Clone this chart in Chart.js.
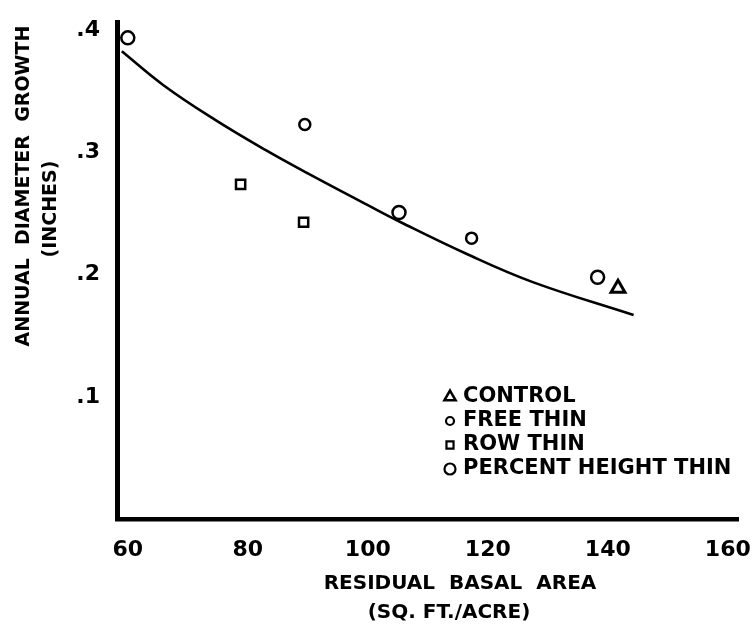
<!DOCTYPE html>
<html>
<head>
<meta charset="utf-8">
<script src="https://cdn.jsdelivr.net/npm/chart.js@4/dist/chart.umd.min.js"></script>
<style>
  html, body { margin: 0; padding: 0; background: #fff; }
  #wrap { width: 756px; height: 629px; }
</style>
</head>
<body>
<div id="wrap"><canvas id="growthChart" width="756" height="629"></canvas></div>
<script>
// values
const xTicks = [60, 80, 100, 120, 140, 160];
const yTicks = [0.1, 0.2, 0.3, 0.4];

const curveX = [59, 66, 74.5, 83, 90, 100, 105.5, 116.5, 127.5, 144.3];
const curveY = [0.383, 0.355, 0.327, 0.302, 0.283, 0.257, 0.243, 0.217, 0.194, 0.167];

const controlX = [141.7];
const controlY = [0.189];

const freeThinX = [89.5, 117.3];
const freeThinY = [0.323, 0.230];

const rowThinX = [78.8, 89.3];
const rowThinY = [0.274, 0.243];

const pctHeightX = [60, 105.2, 138.3];
const pctHeightY = [0.394, 0.251, 0.198];

const legendLabels = ['CONTROL', 'FREE THIN', 'ROW THIN', 'PERCENT HEIGHT THIN'];

const FONT = '"DejaVu Sans", sans-serif';

function pts(xs, ys) {
    return xs.map((x, i) => ({ x: x, y: ys[i] }));
}

function markerSet(label, xs, ys, style, r, bw) {
    return {
        label: label,
        data: pts(xs, ys),
        showLine: false,
        pointStyle: style,
        pointRadius: r,
        pointBorderWidth: bw,
        pointBorderColor: '#000',
        pointBackgroundColor: '#fff'
    };
}

// legend + axis titles, drawn as text on the canvas
const textPlugin = {
    id: 'textPlugin',
    afterDraw(chart) {
        const ctx = chart.ctx;
        ctx.save();
        ctx.fillStyle = '#000';
        ctx.textBaseline = 'middle';

        // y axis title
        ctx.save();
        ctx.translate(24, 186);
        ctx.rotate(-Math.PI / 2);
        ctx.textAlign = 'center';
        ctx.font = 'bold 19px ' + FONT;
        ctx.fillText('ANNUAL  DIAMETER  GROWTH', 0, 0);
        ctx.restore();
        ctx.save();
        ctx.translate(51, 209);
        ctx.rotate(-Math.PI / 2);
        ctx.textAlign = 'center';
        ctx.font = 'bold 19px ' + FONT;
        ctx.fillText('(INCHES)', 0, 0);
        ctx.restore();

        // x axis title
        ctx.textAlign = 'center';
        ctx.font = 'bold 20px ' + FONT;
        ctx.fillText('RESIDUAL  BASAL  AREA', 460, 584);
        ctx.fillText('(SQ. FT./ACRE)', 449, 613);

        // legend
        const legendMarks = [
            { style: 'triangle', r: 6.5, bw: 2.5 },
            { style: 'circle', r: 4, bw: 2.2 },
            { style: 'rect', r: 5, bw: 2.2 },
            { style: 'circle', r: 5.5, bw: 2.2 }
        ];
        ctx.textAlign = 'left';
        ctx.font = 'bold 21px ' + FONT;
        legendLabels.forEach((txt, i) => {
            const y = 396 + i * 24;
            const m = legendMarks[i];
            ctx.strokeStyle = '#000';
            ctx.fillStyle = '#fff';
            ctx.lineWidth = m.bw;
            Chart.helpers.drawPoint(ctx, { pointStyle: m.style, radius: m.r, borderWidth: m.bw, rotation: 0 }, 450, y + 1);
            ctx.fillStyle = '#000';
            ctx.fillText(txt, 463, y + 1);
        });
        ctx.restore();
    }
};

function noOverhang(scale) {
    scale.paddingLeft = 0;
    scale.paddingRight = 0;
    scale.paddingTop = 0;
    scale.paddingBottom = 0;
}

const ctx = document.getElementById('growthChart').getContext('2d');
new Chart(ctx, {
    type: 'scatter',
    data: {
        datasets: [
            {
                label: 'Fitted curve',
                data: pts(curveX, curveY),
                showLine: true,
                borderColor: '#000',
                borderWidth: 2.6,
                pointRadius: 0,
                tension: 0.4,
                fill: false
            },
            markerSet(legendLabels[0], controlX, controlY, 'triangle', 8, 3),
            markerSet(legendLabels[1], freeThinX, freeThinY, 'circle', 5.5, 2.5),
            markerSet(legendLabels[2], rowThinX, rowThinY, 'rect', 6.5, 2.5),
            markerSet(legendLabels[3], pctHeightX, pctHeightY, 'circle', 6.5, 2.5)
        ]
    },
    options: {
        responsive: false,
        animation: false,
        devicePixelRatio: 1,
        layout: { padding: { left: 0, right: 18, top: 22, bottom: 0 } },
        plugins: {
            legend: { display: false },
            tooltip: { enabled: false }
        },
        scales: {
            x: {
                type: 'linear',
                min: 58.2,
                max: 161.7,
                grid: { display: false, drawTicks: false },
                border: { display: true, color: '#000', width: 4.5 },
                afterBuildTicks: scale => { scale.ticks = xTicks.map(v => ({ value: v })); },
                afterFit: scale => { scale.height = 110; noOverhang(scale); },
                ticks: {
                    color: '#000',
                    padding: 18,
                    font: { family: FONT, size: 22, weight: 'bold' },
                    callback: v => String(v)
                }
            },
            y: {
                type: 'linear',
                min: 0,
                max: 0.407,
                grid: { display: false, drawTicks: false },
                border: { display: true, color: '#000', width: 5 },
                afterBuildTicks: scale => { scale.ticks = yTicks.map(v => ({ value: v })); },
                afterFit: scale => { scale.width = 117; noOverhang(scale); },
                ticks: {
                    color: '#000',
                    padding: 17,
                    font: { family: FONT, size: 22, weight: 'bold' },
                    callback: v => '.' + Math.round(v * 10)
                }
            }
        }
    },
    plugins: [textPlugin]
});
</script>
</body>
</html>
